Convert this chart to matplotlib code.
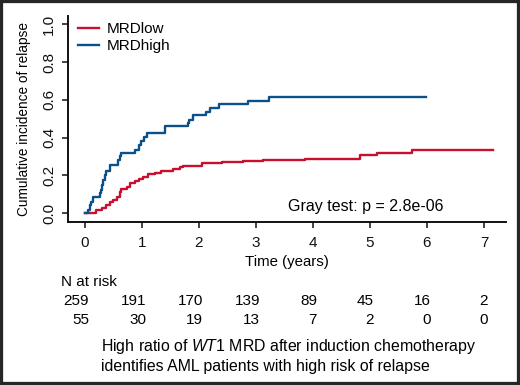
import matplotlib
matplotlib.use("Agg")
import matplotlib.pyplot as plt
import matplotlib.transforms as mtransforms
from matplotlib.patches import Rectangle
from matplotlib import font_manager

plt.rcParams['font.family'] = ['Liberation Sans', 'DejaVu Sans']
plt.rcParams['mathtext.fontset'] = 'custom'
plt.rcParams['mathtext.rm'] = 'Liberation Sans'
plt.rcParams['mathtext.it'] = 'Liberation Sans:italic'

names = {f.name for f in font_manager.fontManager.ttflist}
narrow = 'Liberation Sans Narrow' if 'Liberation Sans Narrow' in names else 'Liberation Sans'
is_narrow = narrow == 'Liberation Sans Narrow'
ylabel_size = 11.5 if is_narrow else 9.8
xlabel_size = 12 if is_narrow else 10.8

# ---- data ----
low_t = [0, 0.19, 0.29, 0.37, 0.44, 0.50, 0.56, 0.61, 0.64, 0.73, 0.79, 0.88, 0.95,
         1.02, 1.11, 1.23, 1.34, 1.55, 1.67, 1.72, 2.05, 2.40, 2.78, 3.13, 3.86,
         4.82, 5.13, 5.73, 7.15]
low_y = [0, 0.016, 0.028, 0.042, 0.06, 0.069, 0.087, 0.113, 0.126, 0.136, 0.157, 0.17,
         0.18, 0.193, 0.205, 0.214, 0.224, 0.233, 0.242, 0.251, 0.264, 0.272, 0.278,
         0.282, 0.287, 0.306, 0.317, 0.334, 0.334]
high_t = [0, 0.06, 0.088, 0.11, 0.14, 0.26, 0.28, 0.30, 0.32, 0.35, 0.37, 0.44, 0.58,
          0.61, 0.63, 0.88, 0.94, 0.99, 1.03, 1.08, 1.40, 1.80, 1.83, 1.89, 2.13, 2.19,
          2.35, 2.86, 3.22, 5.98]
high_y = [0, 0.018, 0.042, 0.06, 0.087, 0.105, 0.122, 0.15, 0.175, 0.20, 0.22, 0.255,
          0.28, 0.30, 0.317, 0.335, 0.36, 0.38, 0.405, 0.425, 0.46, 0.475, 0.495, 0.52,
          0.537, 0.555, 0.577, 0.595, 0.614, 0.614]
series_labels = ['MRDlow', 'MRDhigh']
x_ticks = [0, 1, 2, 3, 4, 5, 6, 7]
y_ticks = [0.0, 0.2, 0.4, 0.6, 0.8, 1.0]
risk_low = [259, 191, 170, 139, 89, 45, 16, 2]
risk_high = [55, 30, 19, 13, 7, 2, 0, 0]
p_text = 'Gray test: p = 2.8e-06'

RED = '#C8102E'
BLUE = '#0B5089'

W, H = 520, 385
fig = plt.figure(figsize=(W / 100, H / 100), dpi=100)
fig.patch.set_facecolor('white')

def fx(px):
    return px / W

def fy(py):
    return 1 - py / H

ax = fig.add_axes([fx(68), fy(222), fx(506) - fx(68), fy(16) - fy(222)])
ax.set_xlim(-0.298, 7.386)
ax.set_ylim(-0.048, 1.045)
for s in ['top', 'right']:
    ax.spines[s].set_visible(False)
for s in ['left', 'bottom']:
    ax.spines[s].set_linewidth(1.4)
    ax.spines[s].set_color('#111111')

ax.step(low_t, low_y, where='post', color=RED, lw=1.7, label=series_labels[0])
ax.step(high_t, high_y, where='post', color=BLUE, lw=1.7, label=series_labels[1])

ax.set_xticks(x_ticks)
ax.set_yticks(y_ticks)
ax.set_yticklabels(['%.1f' % v for v in y_ticks], rotation=90, va='center')
ax.tick_params(direction='out', length=4.5, width=1.1, pad=5.5, labelsize=11,
               colors='#111111')
ax.tick_params(axis='y', pad=4)

ax.set_xlabel('Time (years)', fontfamily=narrow, fontsize=xlabel_size, labelpad=4)
ax.set_ylabel('Cumulative incidence of relapse', fontfamily=narrow, fontsize=ylabel_size,
              labelpad=8)

leg = ax.legend(loc='upper left', bbox_to_anchor=(fx(78), fy(22)),
                bbox_transform=fig.transFigure, frameon=False, fontsize=11,
                handlelength=1.4, handletextpad=0.5, labelspacing=0.2,
                borderpad=0, borderaxespad=0)

fig.text(fx(288), fy(207), p_text, fontsize=11.5, ha='left', va='center')

tr = mtransforms.blended_transform_factory(ax.transData, fig.transFigure)
fig.text(fx(61), fy(282), 'N at risk', fontsize=11, ha='left', va='center')
for x, a, b in zip(x_ticks, risk_low, risk_high):
    fig.text(x + 0.07, fy(301), str(a), transform=tr, fontsize=11, ha='right', va='center')
    fig.text(x + 0.07, fy(320), str(b), transform=tr, fontsize=11, ha='right', va='center')

fig.text(fx(101), fy(347), r'High ratio of $\it{WT1}$ MRD after induction chemotherapy',
         fontsize=11.4, ha='left', va='center')
fig.text(fx(101), fy(367), 'identifies AML patients with high risk of relapse',
         fontsize=11.4, ha='left', va='center')

fig.patches.append(Rectangle((0, 0), 1, 1, transform=fig.transFigure, fill=False,
                             lw=4.5, edgecolor='#262626', zorder=10))

fig.savefig('out.png', dpi=100)
